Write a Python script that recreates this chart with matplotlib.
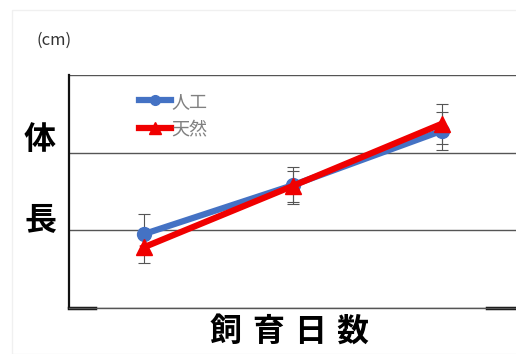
import matplotlib
matplotlib.use("Agg")
import matplotlib.pyplot as plt
from matplotlib.patches import Rectangle

plt.rcParams['font.family'] = ['Noto Sans CJK JP', 'DejaVu Sans']

categories = ["1", "2", "3"]
series_names = ["人工", "天然"]
jinko = [0.95, 1.58, 2.28]
jinko_err = [0.26, 0.24, 0.25]
tennen = [0.78, 1.57, 2.37]
tennen_err = [0.20, 0.20, 0.26]
xlabel_chars = ["飼", "育", "日", "数"]

fig = plt.figure(figsize=(5.16, 3.54), dpi=100)
ax = fig.add_axes([69/516, 1-308/354, (516-69)/516, (308-75)/354])

xpos = [i + 0.5 for i in range(len(categories))]

ax.errorbar(xpos, jinko, yerr=jinko_err, fmt="none", ecolor="#555555",
            elinewidth=0.8, capsize=4, capthick=0.8, zorder=2)
ax.errorbar(xpos, tennen, yerr=tennen_err, fmt="none", ecolor="#555555",
            elinewidth=0.8, capsize=4, capthick=0.8, zorder=2)
ax.plot(xpos, jinko, color="#4472C4", lw=4.5, marker="o", ms=10,
        label=series_names[0], zorder=3)
ax.plot(xpos, tennen, color="#F00000", lw=4.5, marker="^", ms=12,
        label=series_names[1], zorder=4)

ax.set_xlim(0, 3)
ax.set_ylim(0, 3)
ax.set_yticks([0, 1, 2, 3])
ax.set_xticks([])
ax.tick_params(axis='y', left=False, labelleft=False)
ax.yaxis.grid(True, color="#555555", lw=1.0)
ax.set_axisbelow(True)
for s in ["top", "right"]:
    ax.spines[s].set_visible(False)
ax.spines["left"].set_linewidth(1.6)
ax.spines["left"].set_color("#111111")
ax.spines["bottom"].set_linewidth(1.0)
ax.spines["bottom"].set_color("#555555")
ax.plot([0, 26/447], [0, 0], transform=ax.transAxes, color="#111111", lw=2.5, clip_on=False)
ax.plot([418/447, 1], [0, 0], transform=ax.transAxes, color="#111111", lw=2.5, clip_on=False)

leg = ax.legend(loc="upper left", bbox_to_anchor=(0.14, 0.955), frameon=False,
                fontsize=13, handlelength=1.8, handletextpad=0.0, labelspacing=0.55,
                borderaxespad=0, markerscale=0.7)
for t in leg.get_texts():
    t.set_color("#808080")

fig.patches.append(Rectangle((12/516, 0), 1, 1-10/354, transform=fig.transFigure,
                             fill=False, edgecolor="#f0f0f0", lw=1))

fig.text(37/516, 1-40/354, "(cm)", fontsize=12, color="#333333", va="center")
fig.text(40/516, 1-140/354, "体", fontsize=23, fontweight="bold", ha="center", va="center")
fig.text(40/516, 1-220/354, "長", fontsize=23, fontweight="bold", ha="center", va="center")
for i, ch in enumerate(xlabel_chars):
    fig.text((226 + 42 * i)/516, 1-332/354, ch, fontsize=23, fontweight="bold",
             ha="center", va="center")

fig.savefig("out.png", dpi=100)
